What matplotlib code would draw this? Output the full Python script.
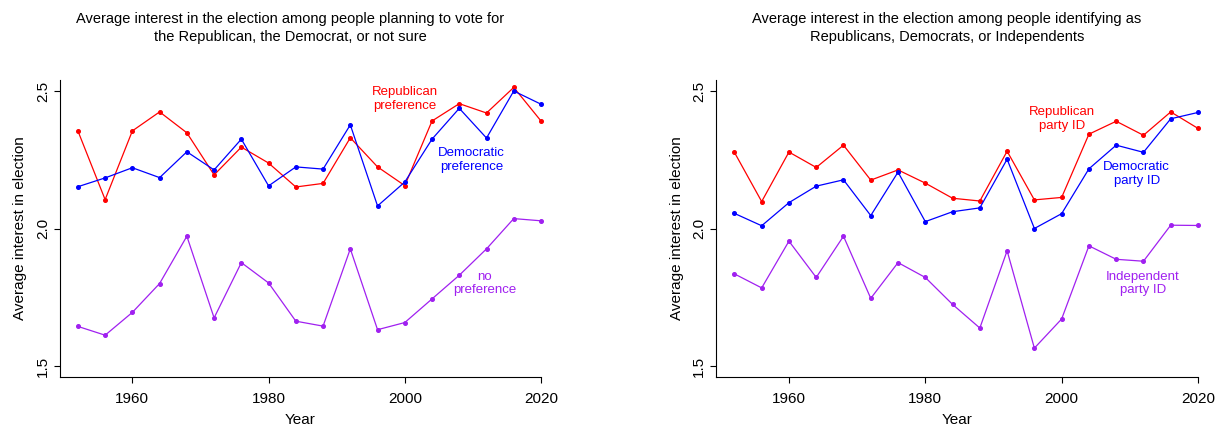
import matplotlib
matplotlib.use('Agg')
import matplotlib.pyplot as plt

plt.rcParams['font.family'] = ['Liberation Sans', 'DejaVu Sans']

years = list(range(1952, 2021, 4))

# left panel: vote preference
rep_pref = [2.355, 2.105, 2.355, 2.424, 2.348, 2.195, 2.296, 2.238, 2.151,
            2.164, 2.330, 2.224, 2.156, 2.391, 2.454, 2.420, 2.513, 2.391]
dem_pref = [2.152, 2.184, 2.221, 2.185, 2.279, 2.213, 2.325, 2.155, 2.224,
            2.216, 2.377, 2.082, 2.169, 2.325, 2.437, 2.329, 2.500, 2.452]
no_pref = [1.644, 1.612, 1.695, 1.800, 1.972, 1.675, 1.876, 1.802, 1.663,
           1.645, 1.926, 1.632, 1.658, 1.744, 1.830, 1.926, 2.036, 2.028]

# right panel: party ID
rep_id = [2.277, 2.098, 2.278, 2.222, 2.303, 2.176, 2.213, 2.165, 2.110,
          2.100, 2.281, 2.104, 2.113, 2.343, 2.390, 2.339, 2.424, 2.364]
dem_id = [2.055, 2.010, 2.094, 2.154, 2.177, 2.047, 2.205, 2.025, 2.061,
          2.075, 2.252, 2.000, 2.054, 2.217, 2.303, 2.277, 2.399, 2.422]
ind_id = [1.835, 1.784, 1.954, 1.822, 1.972, 1.746, 1.876, 1.822, 1.724,
          1.638, 1.919, 1.565, 1.671, 1.937, 1.888, 1.881, 2.012, 2.011]

RED = '#FF0000'
BLUE = '#0000FF'
PURPLE = '#A020F0'

W, H = 1218, 430
fig = plt.figure(figsize=(W / 100, H / 100), dpi=100)


def make_axes(x0, x1, y0, y1):
    ax = fig.add_axes([x0 / W, 1 - y1 / H, (x1 - x0) / W, (y1 - y0) / H])
    ax.set_xlim(1949.3, 2020)
    ax.set_ylim(1.46, 2.54)
    for s in ['top', 'right']:
        ax.spines[s].set_visible(False)
    for s in ['left', 'bottom']:
        ax.spines[s].set_linewidth(0.8)
    ax.set_xticks([1960, 1980, 2000, 2020])
    ax.set_yticks([1.5, 2.0, 2.5])
    ax.set_yticklabels(['1.5', '2.0', '2.5'], rotation=90, va='center')
    ax.tick_params(length=4, width=0.8, labelsize=11)
    ax.tick_params(axis='x', pad=7)
    ax.tick_params(axis='y', pad=3)
    ax.set_xlabel('Year', fontsize=11, labelpad=5)
    ax.set_ylabel('Average interest in election', fontsize=11, labelpad=6)
    return ax


def draw(ax, ys, color):
    ax.plot(years, ys, color=color, lw=0.9, marker='o', ms=2.6,
            clip_on=False)


ax1 = make_axes(59.5, 541, 80, 377)
draw(ax1, rep_pref, RED)
draw(ax1, dem_pref, BLUE)
draw(ax1, no_pref, PURPLE)
ax1.text(2000, 2.471, 'Republican\npreference', color=RED, fontsize=9.5,
         ha='center', va='center')
ax1.text(2009.8, 2.25, 'Democratic\npreference', color=BLUE, fontsize=9.5,
         ha='center', va='center')
ax1.text(2011.7, 1.80, 'no\npreference', color=PURPLE, fontsize=9.5,
         ha='center', va='center')

ax2 = make_axes(716, 1198, 80, 377)
draw(ax2, rep_id, RED)
draw(ax2, dem_id, BLUE)
draw(ax2, ind_id, PURPLE)
ax2.text(2000, 2.398, 'Republican\nparty ID', color=RED, fontsize=9.5,
         ha='center', va='center')
ax2.text(2011, 2.199, 'Democratic\nparty ID', color=BLUE, fontsize=9.5,
         ha='center', va='center')
ax2.text(2011.9, 1.80, 'Independent\nparty ID', color=PURPLE, fontsize=9.5,
         ha='center', va='center')

fig.text(290 / W, 1 - 28 / H,
         'Average interest in the election among people planning to vote for\n'
         'the Republican, the Democrat, or not sure',
         ha='center', va='center', fontsize=10.5, linespacing=1.45)
fig.text(947 / W, 1 - 28 / H,
         'Average interest in the election among people identifying as\n'
         'Republicans, Democrats, or Independents',
         ha='center', va='center', fontsize=10.5, linespacing=1.45)

fig.savefig('out.png', dpi=100)
